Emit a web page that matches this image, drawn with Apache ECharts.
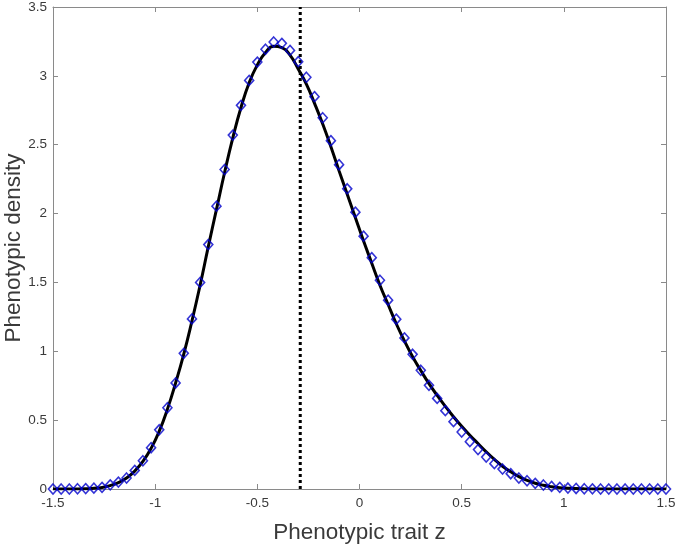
<!DOCTYPE html>
<html>
<head>
    <meta charset="utf-8">
    <title>Phenotypic density</title>
    <script src="https://cdn.jsdelivr.net/npm/echarts@6/dist/echarts.min.js"></script>
</head>
<body style="margin: 0;">
<div id="main" style="width: 677px;height: 544px;"></div>
<script type="text/javascript">
    // x grid shared by the markers and the curve (step 0.04)
    var zValues = [];
    for (var i = 0; i <= 75; i++) zValues.push(+(-1.5 + i * 0.04).toFixed(2));

    // simulated density (blue diamonds)
    var simDensity = [
        0, 0, 0, 0.002, 0.003, 0.006, 0.012, 0.03, 0.05, 0.08,
        0.135, 0.205, 0.30, 0.43, 0.59, 0.77, 0.985, 1.235, 1.50, 1.775,
        2.054, 2.32, 2.57, 2.786, 2.967, 3.10, 3.193, 3.246, 3.236, 3.185,
        3.103, 2.99, 2.849, 2.696, 2.529, 2.355, 2.18, 2.01, 1.836, 1.68,
        1.516, 1.371, 1.233, 1.097, 0.978, 0.862, 0.753, 0.658, 0.569, 0.489,
        0.414, 0.344, 0.286, 0.232, 0.184, 0.145, 0.111, 0.080, 0.060, 0.041,
        0.029, 0.019, 0.012, 0.007, 0.004, 0.002, 0.001, 0, 0, 0,
        0, 0, 0, 0, 0, 0
    ];

    // analytical density (black curve)
    var curveDensity = [
        0, 0, 0, 0, 0.001, 0.005, 0.011, 0.025, 0.047, 0.08,
        0.13, 0.20, 0.295, 0.42, 0.58, 0.77, 0.98, 1.22, 1.48, 1.76,
        2.03, 2.30, 2.55, 2.77, 2.95, 3.08, 3.17, 3.215, 3.205, 3.15,
        3.05, 2.94, 2.80, 2.65, 2.485, 2.31, 2.14, 1.97, 1.80, 1.64,
        1.48, 1.34, 1.20, 1.075, 0.96, 0.86, 0.765, 0.68, 0.60, 0.525,
        0.455, 0.39, 0.33, 0.27, 0.215, 0.165, 0.125, 0.09, 0.063, 0.042,
        0.027, 0.017, 0.010, 0.006, 0.003, 0.0015, 0.0005, 0, 0, 0,
        0, 0, 0, 0, 0, 0
    ];

    var meanTrait = -0.29;   // dotted vertical line

    var pts = zValues.map(function (z, i) { return [z, simDensity[i]]; });
    var curve = zValues.map(function (z, i) { return [z, curveDensity[i]]; });

    var axisGray = '#8a8a8a';
    var labelColor = '#3a3a3a';
    var font = 'Liberation Sans, Arial, sans-serif';

    var myChart = echarts.init(document.getElementById('main'));
    var option = {
        animation: false,
        grid: {left: 53, right: 11, top: 7, bottom: 55, containLabel: false, outerBoundsMode: 'none'},
        xAxis: [{
            type: 'value', min: -1.5, max: 1.5, interval: 0.5,
            name: 'Phenotypic trait z', nameLocation: 'middle', nameGap: 32,
            nameMoveOverlap: false,
            nameTextStyle: {fontSize: 22.5, color: labelColor, fontFamily: font},
            axisLine: {show: true, onZero: false, lineStyle: {color: axisGray, width: 1}},
            axisTick: {show: true, inside: true, length: 5, lineStyle: {color: axisGray}},
            axisLabel: {fontSize: 13.5, color: labelColor, fontFamily: font, margin: 7},
            splitLine: {show: false}
        }, {
            type: 'value', position: 'top', min: -1.5, max: 1.5, interval: 0.5,
            axisLine: {show: true, onZero: false, lineStyle: {color: axisGray, width: 1}},
            axisTick: {show: true, inside: true, length: 5, lineStyle: {color: axisGray}},
            axisLabel: {show: false},
            splitLine: {show: false}
        }],
        yAxis: [{
            type: 'value', min: 0, max: 3.5, interval: 0.5,
            name: 'Phenotypic density', nameLocation: 'middle', nameGap: 28,
            nameMoveOverlap: false,
            nameTextStyle: {fontSize: 22.5, color: labelColor, fontFamily: font},
            axisLine: {show: true, onZero: false, lineStyle: {color: axisGray, width: 1}},
            axisTick: {show: true, inside: true, length: 5, lineStyle: {color: axisGray}},
            axisLabel: {fontSize: 13.5, color: labelColor, fontFamily: font, margin: 6},
            splitLine: {show: false}
        }, {
            type: 'value', position: 'right', min: 0, max: 3.5, interval: 0.5,
            axisLine: {show: true, onZero: false, lineStyle: {color: axisGray, width: 1}},
            axisTick: {show: true, inside: true, length: 5, lineStyle: {color: axisGray}},
            axisLabel: {show: false},
            splitLine: {show: false}
        }],
        series: [{
            type: 'line',
            data: curve,
            smooth: true,
            showSymbol: false,
            lineStyle: {color: '#000', width: 3},
            z: 2
        }, {
            type: 'scatter',
            data: pts,
            symbol: 'diamond',
            symbolSize: [9, 10],
            itemStyle: {color: 'rgba(0,0,0,0)', borderColor: '#0000cc', borderWidth: 1.6},
            z: 3
        }, {
            type: 'line',
            data: [[meanTrait, 0], [meanTrait, 3.5]],
            showSymbol: false,
            lineStyle: {color: '#000', width: 3, type: [3, 3]},
            z: 1
        }]
    };
    myChart.setOption(option);
</script>
</body>
</html>
